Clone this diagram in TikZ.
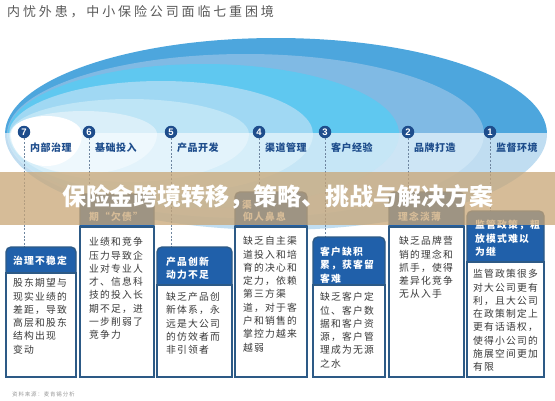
\documentclass[tikz,border=0pt]{standalone}
\usepackage{fontspec}
\setmainfont{Noto Sans CJK SC}
\newfontfamily\numfont{Liberation Sans}
\definecolor{navy}{HTML}{1E4D8C}
\definecolor{headblue}{HTML}{2060AA}
\definecolor{boxline}{HTML}{2D5A86}
\definecolor{txtgray}{HTML}{3A3A3A}
\definecolor{dashc}{HTML}{6F86A0}
\definecolor{tanband}{HTML}{C9A676}
\definecolor{eau}{HTML}{4DA6DD}
\definecolor{ebu}{HTML}{80BAE4}
\definecolor{ecu}{HTML}{5FC8F0}
\definecolor{edu}{HTML}{A0D8F3}
\definecolor{eeu}{HTML}{BEE5F6}
\definecolor{efu}{HTML}{DAEFF9}
\definecolor{eal}{HTML}{C0DDF1}
\definecolor{ebl}{HTML}{CDE5F5}
\definecolor{ecl}{HTML}{C6E6F6}
\definecolor{edl}{HTML}{D6EEF9}
\definecolor{eel}{HTML}{E3F3FB}
\definecolor{efl}{HTML}{EEF8FD}
\newcommand\panel[5]{%
  \draw[boxline, line width=1.4pt, fill=headblue, rounded corners=5pt] (#1,#3) rectangle (#2,{#4+6});
  \draw[boxline, line width=1.6pt, fill=white] (#1,#4) rectangle (#2,#5);
}
\newcommand\tlines[5]{%
  \foreach \t [count=\i from 0] in {#5} {\node[#1, name=#4\i] at (#2,{#3+13.3*\i}) {\t};}
}
\begin{document}
\begin{tikzpicture}[x=1pt,y=-1pt,
  bodytxt/.style={anchor=west, inner sep=0pt, text=txtgray, font=\fontsize{9.8}{12}\selectfont\addfontfeature{LetterSpace=12}},
  headtxt/.style={anchor=west, inner sep=0pt, text=white, font=\fontsize{9.8}{12}\selectfont\bfseries\addfontfeature{LetterSpace=12}},
  lab/.style={anchor=west, inner sep=0pt, text=navy, font=\fontsize{10}{12}\selectfont\bfseries\addfontfeature{LetterSpace=5}},
  numcirc/.style={circle, fill=navy, inner sep=0pt, minimum size=12.5pt, text=white, font=\numfont\bfseries\fontsize{9.5}{10}\selectfont},
  dashline/.style={draw=dashc, line width=0.6pt, dash pattern=on 2pt off 1.6pt}]
\useasboundingbox (0,0) rectangle (555,400);
\fill[white] (0,0) rectangle (555,400);
% ellipses, upper halves
\begin{scope}
\clip (0,0) rectangle (555,133);
\fill[eau] (276,134) ellipse [x radius=271, y radius=96];
\fill[ebu] (245.5,134) ellipse [x radius=238.5, y radius=80];
\fill[ecu] (203.5,134) ellipse [x radius=195.5, y radius=70];
\fill[edu] (161,134) ellipse [x radius=152, y radius=53];
\fill[eeu] (129.5,134) ellipse [x radius=119.5, y radius=35];
\fill[efu] (83.5,134) ellipse [x radius=73.5, y radius=23];
\fill[white] (46.5,134) ellipse [x radius=35.5, y radius=18];
\end{scope}
% lower halves
\begin{scope}
\clip (0,133) rectangle (555,400);
\fill[eal] (276,134) ellipse [x radius=271, y radius=96];
\fill[ebl] (245.5,134) ellipse [x radius=238.5, y radius=84];
\fill[ecl] (203.5,134) ellipse [x radius=195.5, y radius=74];
\fill[edl] (161,134) ellipse [x radius=152, y radius=60];
\fill[eel] (129.5,134) ellipse [x radius=119.5, y radius=48];
\fill[efl] (83.5,134) ellipse [x radius=73.5, y radius=40];
\fill[white] (46.5,134) ellipse [x radius=35.5, y radius=32];
\end{scope}
% numbered circles
\node[numcirc] (c7) at (24,132) {7};
\node[numcirc] (c6) at (89,132) {6};
\node[numcirc] (c5) at (171,132) {5};
\node[numcirc] (c4) at (259,132) {4};
\node[numcirc] (c3) at (325,132) {3};
\node[numcirc] (c2) at (408,132) {2};
\node[numcirc] (c1) at (490,132) {1};
% labels
\node[lab] (l7) at (30,148) {内部治理};
\node[lab] (l6) at (95,148) {基础投入};
\node[lab] (l5) at (177,148) {产品开发};
\node[lab] (l4) at (265,148) {渠道管理};
\node[lab] (l3) at (331,148) {客户经验};
\node[lab] (l2) at (414,148) {品牌打造};
\node[lab] (l1) at (496,148) {监督环境};
% dashed connectors
\coordinate (h7) at (24,247);
\coordinate (h6) at (89,194);
\coordinate (h5) at (171,247);
\coordinate (h4) at (259,192);
\coordinate (h3) at (325,237);
\coordinate (h2) at (408,192);
\coordinate (h1) at (490,211);
\foreach \k in {1,...,7} {\draw[dashline] (c\k.south) -- (h\k);}
% panels
\panel{6}{76}{247}{273}{377}
\panel{80}{154}{194}{227}{377}
\panel{157}{232}{247}{285}{377}
\panel{235}{307}{192}{227}{377}
\panel{313}{385}{237}{285}{377}
\panel{389}{464}{192}{227}{377}
\panel{467}{544}{211}{262}{377}
% panel texts
\tlines{headtxt}{13}{261}{ha}{治理不稳定}
\tlines{bodytxt}{13}{283}{ba}{股东期望与,现实业绩的,差距，导致,高层和股东,结构出现,变动}
\tlines{headtxt}{89}{217}{hb}{期“欠债”}
\tlines{bodytxt}{89}{242}{bb}{业绩和竞争,压力导致企,业对专业人,才、信息科,技的投入长,期不足，进,一步削弱了,竞争力}
\tlines{headtxt}{166}{262}{hc}{产品创新,动力不足}
\tlines{bodytxt}{166}{297}{bc}{缺乏产品创,新体系，永,远是大公司,的仿效者而,非引领者}
\node[headtxt] (hd0) at (242,205) {渠};
\node[headtxt] (hd1) at (243,217) {仰人鼻息};
\tlines{bodytxt}{243}{241}{bd}{缺乏自主渠,道投入和培,育的决心和,定力，依赖,第三方渠,道，对于客,户和销售的,掌控力越来,越弱}
\tlines{headtxt}{320}{252}{he}{客户缺积,累，获客留,客难}
\tlines{bodytxt}{320}{297}{be}{缺乏客户定,位、客户数,据和客户资,源，客户管,理成为无源,之水}
\tlines{headtxt}{398}{217}{hf}{理念淡薄}
\tlines{bodytxt}{399}{241}{bf}{缺乏品牌营,销的理念和,抓手，使得,差异化竞争,无从入手}
\tlines{headtxt}{475}{225}{hg}{监管政策，粗,放模式难以,为继}
\tlines{bodytxt}{473}{274}{bg}{监管政策很多,对大公司更有,利，且大公司,在政策制定上,更有话语权，,使得小公司的,施展空间更加,有限}
% band and title
\fill[tanband, opacity=0.75] (0,172) rectangle (555,225);
\node[text=white, inner sep=0pt, font=\fontsize{24}{24}\selectfont\bfseries] (title) at (278,197) {保险金跨境转移，策略、挑战与解决方案};
% top heading and footer
\node[anchor=west, inner sep=0pt, text=black!65, font=\fontsize{13}{14}\selectfont\addfontfeature{LetterSpace=22}] (heading) at (7,12) {内忧外患，中小保险公司面临七重困境};
\node[anchor=west, inner sep=0pt, text=black!40, font=\fontsize{5.5}{6}\selectfont\addfontfeature{LetterSpace=15}] (footer) at (12,394) {资料来源：麦肯锡分析};
\end{tikzpicture}
\end{document}
